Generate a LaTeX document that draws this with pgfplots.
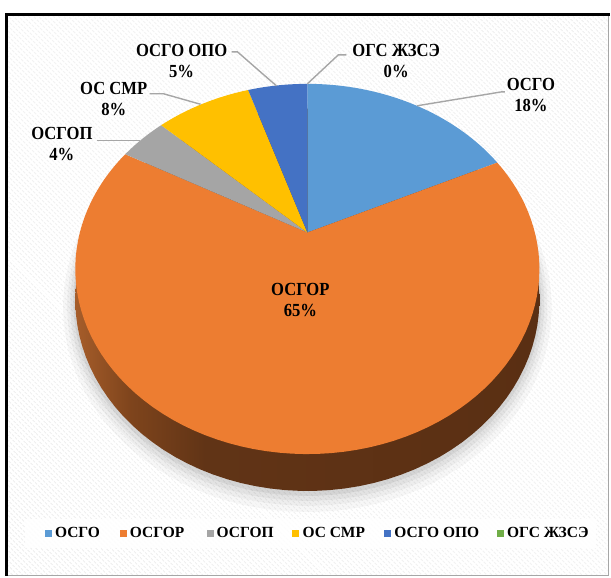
\documentclass[border=0pt]{standalone}
\usepackage{fontspec}
\setmainfont{Liberation Serif}
\newfontfamily\lblfont{Liberation Serif}[FakeStretch=0.9]
\usepackage{pgfplots}
\pgfplotsset{compat=1.18}
\usepackage{pgfplotstable}
\usetikzlibrary{patterns.meta}

\definecolor{cA}{HTML}{5B9BD5}
\definecolor{cB}{HTML}{ED7D31}
\definecolor{cC}{HTML}{A5A5A5}
\definecolor{cD}{HTML}{FFC000}
\definecolor{cE}{HTML}{4472C4}
\definecolor{cF}{HTML}{70AD47}
\definecolor{lead}{HTML}{A6A6A6}
\definecolor{brL}{HTML}{A65D2A}
\definecolor{brQ}{HTML}{7E441C}
\definecolor{brM}{HTML}{613416}
\definecolor{brR}{HTML}{5A2F13}
\pgfdeclarehorizontalshading{sideshade}{100bp}{color(0bp)=(brL); color(25bp)=(brL); color(31bp)=(brQ); color(39bp)=(brM); color(75bp)=(brR); color(100bp)=(brR)}

\pgfplotstableread[col sep=comma]{
name,value
ОСГО,18
ОСГОР,65
ОСГОП,4
ОС СМР,8
ОСГО ОПО,5
ОГС ЖЗСЭ,0
}\piedata

\pgfplotstablegetelem{0}{value}\of\piedata\edef\vA{\pgfplotsretval}
\pgfplotstablegetelem{1}{value}\of\piedata\edef\vB{\pgfplotsretval}
\pgfplotstablegetelem{2}{value}\of\piedata\edef\vC{\pgfplotsretval}
\pgfplotstablegetelem{3}{value}\of\piedata\edef\vD{\pgfplotsretval}
\pgfplotstablegetelem{4}{value}\of\piedata\edef\vE{\pgfplotsretval}
\pgfplotstablegetelem{5}{value}\of\piedata\edef\vF{\pgfplotsretval}
\pgfmathsetmacro\aA{0}
\pgfmathsetmacro\aB{\aA+3.6*\vA}
\pgfmathsetmacro\aC{\aB+3.6*\vB}
\pgfmathsetmacro\aD{\aC+3.6*\vC}
\pgfmathsetmacro\aE{\aD+3.6*\vD}
\pgfmathsetmacro\aF{\aE+3.6*\vE}

% projection of the tilted pie (pixel units)
\def\cx{308}\def\cy{233}\def\RA{228}\def\RB{178.3}\def\kk{0.197}\def\DD{29.7}

\newcommand\slice[3]{%
  \addplot[draw=none, fill=#1, domain=#2:#3, samples=90]
    ({\cx+\RA*sin(x)/(1+\kk*cos(x))},{\cy-\RB*cos(x)/(1+\kk*cos(x))})
    -- (axis cs:\cx,\cy) -- cycle;}

\newcommand\lbl[4]{% x, baseline1, text1, text2
  \node[anchor=base, inner sep=0pt, font=\lblfont\bfseries\fontsize{18.5bp}{21bp}\selectfont] at (axis cs:#1,#2) {#3};
  \node[anchor=base, inner sep=0pt, font=\lblfont\bfseries\fontsize{18.5bp}{21bp}\selectfont] at (axis cs:#1,#2+21) {#4};}

\newcommand\leg[3]{% textx, color, text
  \fill[#2] (axis cs:#1-10,531) rectangle (axis cs:#1-3,538);
  \node[anchor=base west, inner sep=0pt, font=\bfseries\fontsize{15.5bp}{17bp}\selectfont] at (axis cs:#1,539) {#3};}

\begin{document}
\begin{tikzpicture}
\begin{axis}[
  width=611bp, height=577bp, scale only axis,
  xmin=0, xmax=611, ymin=0, ymax=577, y dir=reverse,
  hide axis, clip=false]
% background
\fill[white] (axis cs:0,0) rectangle (axis cs:611,577);
\fill[pattern={Lines[angle=-45, distance=3.6bp, line width=1.1bp]}, pattern color=black!6]
  (axis cs:7,15) rectangle (axis cs:609,576);
\draw[gray!70, line width=1bp] (axis cs:609.5,14) -- (axis cs:609.5,576.5) -- (axis cs:6,576.5);
\draw[black, line width=2.6bp] (axis cs:6.3,577) -- (axis cs:6.3,14.3) -- (axis cs:611,14.3);
% legend box
\fill[white, opacity=0.85] (axis cs:25,520) rectangle (axis cs:597,549);

% shadow
\addplot[draw=none, fill=black, fill opacity=0.03, domain=0:360, samples=120]
  ({\cx+(\RA+12)*sin(x)/(1+\kk*cos(x))},{\cy+(-(\RB+12)*cos(x)+\DD+5)/(1+\kk*cos(x))}) -- cycle;
\addplot[draw=none, fill=black, fill opacity=0.035, domain=0:360, samples=120]
  ({\cx+(\RA+8)*sin(x)/(1+\kk*cos(x))},{\cy+(-(\RB+8)*cos(x)+\DD+4)/(1+\kk*cos(x))}) -- cycle;
\addplot[draw=none, fill=black, fill opacity=0.045, domain=0:360, samples=120]
  ({\cx+(\RA+5)*sin(x)/(1+\kk*cos(x))},{\cy+(-(\RB+5)*cos(x)+\DD+3)/(1+\kk*cos(x))}) -- cycle;
\addplot[draw=none, fill=black, fill opacity=0.06, domain=0:360, samples=120]
  ({\cx+(\RA+2)*sin(x)/(1+\kk*cos(x))},{\cy+(-(\RB+2)*cos(x)+\DD+2)/(1+\kk*cos(x))}) -- cycle;
% side (bottom face)
\addplot[draw=none, shading=sideshade, domain=0:360, samples=120]
  ({\cx+\RA*sin(x)/(1+\kk*cos(x))},{\cy+(-\RB*cos(x)+\DD)/(1+\kk*cos(x))}) -- cycle;
% top face slices
\slice{cA}{\aA}{\aB}
\slice{cB}{\aB}{\aC}
\slice{cC}{\aC}{\aD}
\slice{cD}{\aD}{\aE}
\slice{cE}{\aE}{\aF}

% leader lines
\draw[lead, line width=1.4bp] (axis cs:418,106) -- (axis cs:503,92) -- (axis cs:506,92);
\draw[lead, line width=1.4bp] (axis cs:308,84) -- (axis cs:339,55) -- (axis cs:347,55);
\draw[lead, line width=1.4bp] (axis cs:232,52) -- (axis cs:238,52) -- (axis cs:277,86);
\draw[lead, line width=1.4bp] (axis cs:150,94) -- (axis cs:164,94) -- (axis cs:201,104.5);
\draw[lead, line width=1.4bp] (axis cs:97,141) -- (axis cs:140,141);

% data labels
\lbl{532}{91}{ОСГО}{\vA\%}
\lbl{301}{296}{ОСГОР}{\vB\%}
\lbl{62}{140}{ОСГОП}{\vC\%}
\lbl{114}{95}{ОС СМР}{\vD\%}
\lbl{182}{57}{ОСГО ОПО}{\vE\%}
\lbl{397}{57}{ОГС ЖЗСЭ}{\vF\%}

% legend
\leg{55}{cA}{ОСГО}
\leg{130}{cB}{ОСГОР}
\leg{217}{cC}{ОСГОП}
\leg{303}{cD}{ОС СМР}
\leg{395}{cE}{ОСГО ОПО}
\leg{508}{cF}{ОГС ЖЗСЭ}
\end{axis}
\end{tikzpicture}
\end{document}
